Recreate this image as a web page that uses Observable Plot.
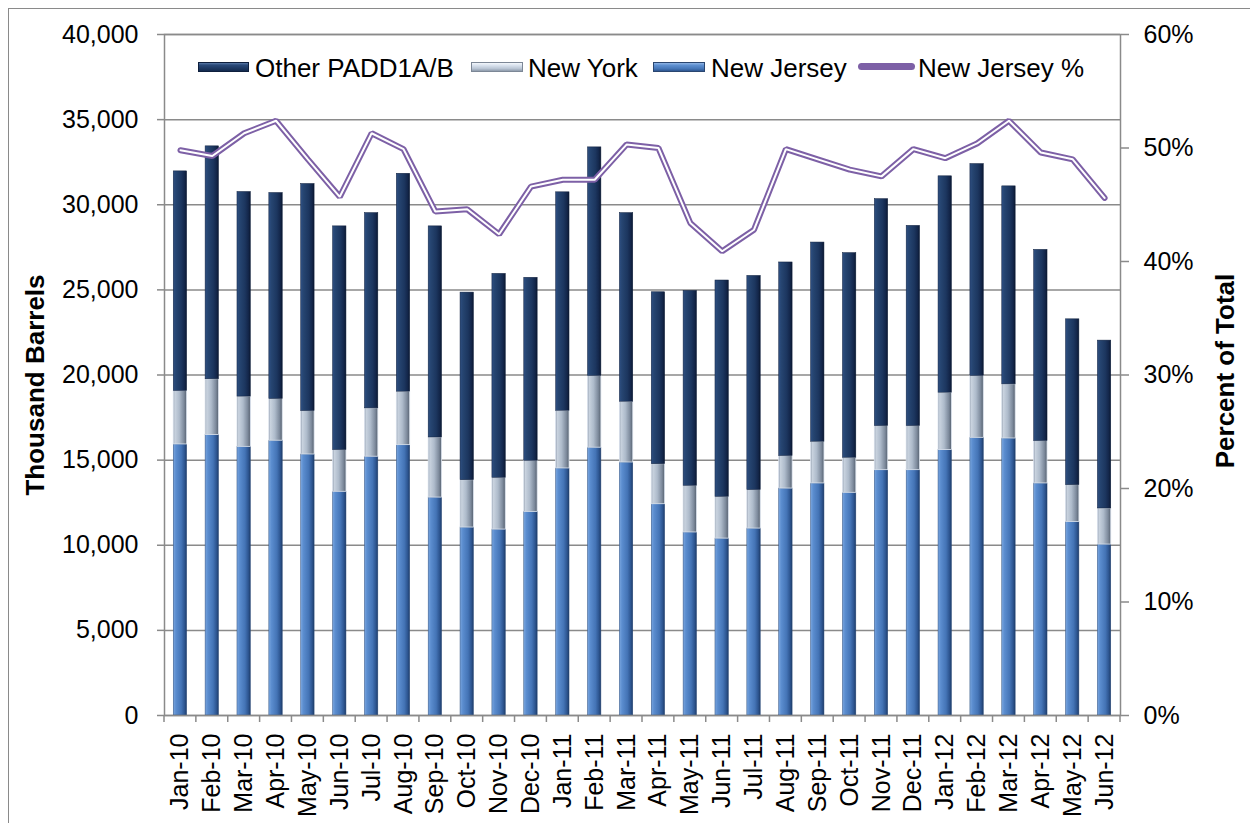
<!DOCTYPE html>
<html>
<head>
<meta charset="utf-8">
<script src="https://cdn.jsdelivr.net/npm/d3@7"></script>
<script src="https://cdn.jsdelivr.net/npm/@observablehq/plot@0.6"></script>
<style>
  html, body { margin: 0; padding: 0; background: #fff; overflow: hidden; }
  body { width: 1250px; height: 823px; position: relative; font-family: "Liberation Sans", Arial, sans-serif; }
  #frame { position: absolute; left: 8px; top: 8px; width: 1400px; height: 1000px; border-top: 1.5px solid #8a8a8a; border-left: 1.5px solid #8a8a8a; pointer-events: none; }
  #chart { position: absolute; left: 0; top: 0; }
  #legend { position: absolute; left: 0; top: 0; width: 1250px; height: 100px; pointer-events: none; }
  .sw { position: absolute; top: 62px; height: 10px; box-sizing: border-box; }
  .lt { position: absolute; top: 53px; font-size: 26px; line-height: 30px; color: #000; white-space: nowrap; }
</style>
</head>
<body>
<div id="chart"></div>
<div id="legend">
  <div class="sw" style="left:198px;width:51px;border:1px solid #0e1f3d;background:linear-gradient(to bottom,#5a7aa8 0%,#2a4a7a 25%,#1f3b66 60%,#132a4e 100%);"></div>
  <div class="lt" style="left:255px;">Other PADD1A/B</div>
  <div class="sw" style="left:471px;width:52px;border:1px solid #7c8796;background:linear-gradient(to bottom,#f2f6fb 0%,#d9e2ee 30%,#b9c5d4 70%,#8e9bab 100%);"></div>
  <div class="lt" style="left:528px;">New York</div>
  <div class="sw" style="left:653px;width:52px;border:1px solid #2a4670;background:linear-gradient(to bottom,#8fb4e4 0%,#5d8fd0 30%,#4677b8 70%,#2f5690 100%);"></div>
  <div class="lt" style="left:711px;">New Jersey</div>
  <div class="sw" style="left:858px;width:57px;top:63px;height:7px;border-radius:4px;background:#7d60a6;"></div>
  <div class="lt" style="left:918px;">New Jersey %</div>
</div>
<div id="frame"></div>
<script>
// ---- data ----
const months = ["Jan-10","Feb-10","Mar-10","Apr-10","May-10","Jun-10","Jul-10","Aug-10","Sep-10","Oct-10","Nov-10","Dec-10",
                "Jan-11","Feb-11","Mar-11","Apr-11","May-11","Jun-11","Jul-11","Aug-11","Sep-11","Oct-11","Nov-11","Dec-11",
                "Jan-12","Feb-12","Mar-12","Apr-12","May-12","Jun-12"];
const newJersey = [15920,16470,15780,16140,15330,13140,15200,15880,12800,11040,10920,11960,
                   14510,15730,14860,12410,10750,10390,10980,13330,13630,13080,14410,14410,
                   15590,16310,16270,13630,11370,10040];
const newYork   = [3140,3280,2950,2450,2550,2450,2840,3140,3530,2780,3040,3000,
                   3390,4210,3570,2350,2740,2450,2260,1910,2450,2060,2590,2590,
                   3370,3630,3180,2490,2160,2120];
const otherPADD = [12900,13680,12020,12100,13340,13140,11470,12800,12400,11020,11980,10750,
                   12830,13430,11080,10100,11450,12710,12580,11370,11700,12020,13330,11760,
                   12710,12450,11630,11230,9740,9860];
const njPercent = [49.8,49.3,51.3,52.4,49.0,45.7,51.3,49.9,44.4,44.6,42.4,46.6,
                   47.2,47.2,50.3,50.0,43.4,40.9,42.8,49.9,49.0,48.1,47.5,49.9,
                   49.1,50.4,52.4,49.6,49.0,45.6];
const leftTicks = [0,5000,10000,15000,20000,25000,30000,35000,40000];
const rightTicks = [0,10,20,30,40,50,60];   // percent
const yMax = 40000, pMax = 60;

// ---- table built from the arrays ----
const rows = months.map((m, i) => {
  const a = newJersey[i], b = a + newYork[i], c = b + otherPADD[i];
  return {month: m, nj0: 0, nj1: a, ny0: a, ny1: b, ot0: b, ot1: c, pctY: njPercent[i] / pMax * yMax};
});

const NS = "http://www.w3.org/2000/svg";
function defs() {
  const d = document.createElementNS(NS, "defs");
  const grads = {
    gNJ:  [["0%","#7aa6df"],["20%","#5b8dcf"],["60%","#4474b6"],["85%","#2d5590"],["100%","#1e3c68"]],
    gNY:  [["0%","#8d99a9"],["12%","#c9d3df"],["45%","#aebbcb"],["80%","#7d8a9c"],["100%","#56616f"]],
    gOT:  [["0%","#2e4f82"],["20%","#264571"],["60%","#1c365f"],["85%","#13264a"],["100%","#0b1830"]]
  };
  for (const [id, stops] of Object.entries(grads)) {
    const g = document.createElementNS(NS, "linearGradient");
    g.setAttribute("id", id);
    g.setAttribute("x1", "0"); g.setAttribute("x2", "1"); g.setAttribute("y1", "0"); g.setAttribute("y2", "0");
    for (const [o, c] of stops) {
      const s = document.createElementNS(NS, "stop");
      s.setAttribute("offset", o); s.setAttribute("stop-color", c);
      g.appendChild(s);
    }
    d.appendChild(g);
  }
  return d;
}

// tick marks at band boundaries along the bottom axis
function boundaryTicks(index, scales, values, dims) {
  const g = document.createElementNS(NS, "g");
  const x = scales.x;
  const y0 = scales.y(0);
  const n = months.length;
  let xs = [];
  if (x && typeof x.step === "function") {
    const st = x.step(), bw = x.bandwidth();
    xs = months.map(m => x(m) - (st - bw) / 2);
    xs.push(x(months[n - 1]) + bw + (st - bw) / 2);
  } else {
    const l = dims.marginLeft, r = dims.width - dims.marginRight;
    for (let i = 0; i <= n; i++) xs.push(l + (r - l) * i / n);
  }
  for (const xx of xs) {
    const ln = document.createElementNS(NS, "line");
    ln.setAttribute("x1", xx); ln.setAttribute("x2", xx);
    ln.setAttribute("y1", y0); ln.setAttribute("y2", y0 + 7);
    ln.setAttribute("stroke", "#8a8a8a"); ln.setAttribute("stroke-width", "1.5");
    g.appendChild(ln);
  }
  return g;
}

const chart = Plot.plot({
  width: 1250,
  height: 823,
  marginLeft: 164,
  marginRight: 130,
  marginTop: 34,
  marginBottom: 108,
  style: {fontFamily: "'Liberation Sans', Arial, sans-serif", fontSize: "25px", color: "#000", background: "transparent", overflow: "visible"},
  x: {type: "band", domain: months, paddingInner: 0.58, paddingOuter: 0.29, round: false},
  y: {domain: [0, yMax]},
  marks: [
    defs,
    Plot.ruleY(leftTicks, {stroke: "#8a8a8a", strokeWidth: 1.5}),
    Plot.barY(rows, {x: "month", y1: "nj0", y2: "nj1", fill: "url(#gNJ)", stroke: "#2a4b7a", strokeWidth: 0.5}),
    Plot.barY(rows, {x: "month", y1: "ny0", y2: "ny1", fill: "url(#gNY)", stroke: "#dbe3ee", strokeWidth: 0.8}),
    Plot.barY(rows, {x: "month", y1: "ot0", y2: "ot1", fill: "url(#gOT)", stroke: "#0e1f3d", strokeWidth: 0.5}),
    Plot.frame({stroke: "#8a8a8a", strokeWidth: 1.5}),
    Plot.line(rows, {x: "month", y: "pctY", stroke: "#7d60a6", strokeWidth: 6, strokeLinejoin: "miter", strokeLinecap: "round"}),
    Plot.line(rows, {x: "month", y: "pctY", stroke: "#ffffff", strokeWidth: 2, strokeLinejoin: "miter", strokeLinecap: "round"}),
    Plot.axisY({ticks: leftTicks, tickFormat: d3.format(","), tickSize: 7, tickPadding: 19, stroke: "#8a8a8a", strokeWidth: 1.5, fill: "#000", fontSize: 25, label: null}),
    Plot.axisY({anchor: "right", ticks: rightTicks.map(p => p / pMax * yMax), tickFormat: d => Math.round(d / yMax * pMax) + "%", tickSize: 8, tickPadding: 15, stroke: "#8a8a8a", strokeWidth: 1.5, fill: "#000", fontSize: 25, label: null}),
    Plot.axisX({tickSize: 0, tickPadding: 18, tickRotate: -90, fill: "#000", fontSize: 25, label: null}),
    boundaryTicks,
    Plot.text(["Thousand Barrels"], {frameAnchor: "left", dx: -129, dy: 10, rotate: -90, textAnchor: "middle", fontWeight: "bold", fontSize: 26, fill: "#000"}),
    Plot.text(["Percent of Total"], {frameAnchor: "right", dx: 105, dy: -4, rotate: -90, textAnchor: "middle", fontWeight: "bold", fontSize: 26, fill: "#000"})
  ]
});
document.getElementById("chart").appendChild(chart);
</script>
</body>
</html>
